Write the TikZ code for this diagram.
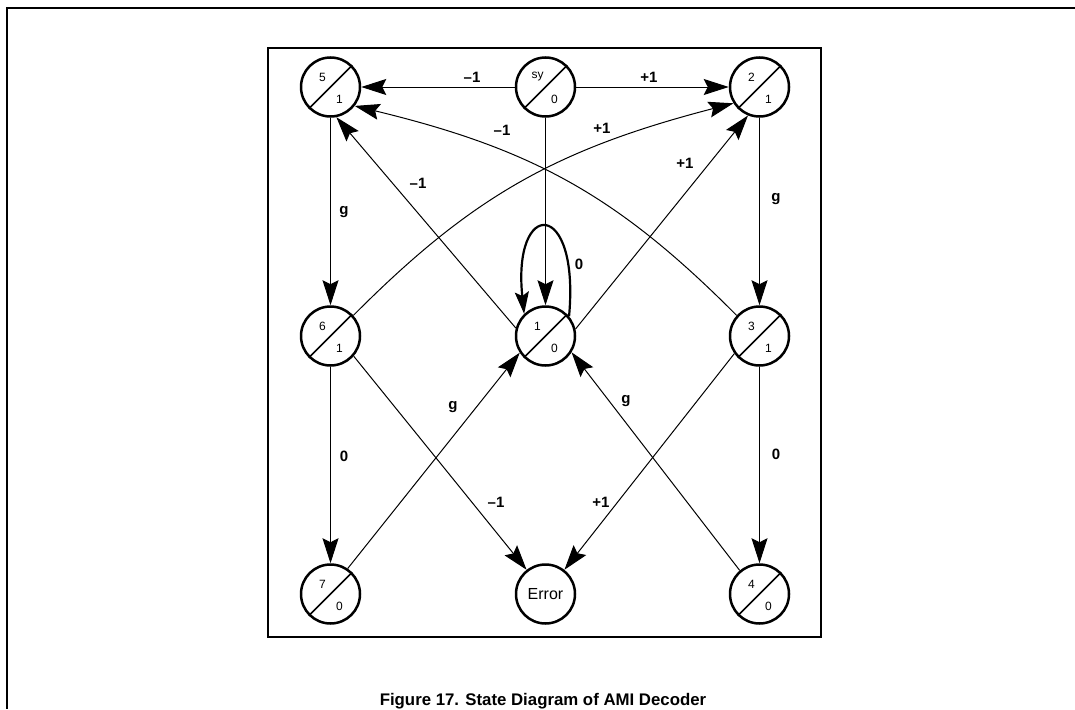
\documentclass[tikz,border=0pt]{standalone}
\usepackage{fontspec}
\setmainfont{Liberation Sans}
\usetikzlibrary{arrows.meta,calc}
\tikzset{
  st/.style={circle,draw,line width=2.5pt,minimum size=59pt,inner sep=0pt},
  diag/.style={line width=1.5pt},
  lbl/.style={font=\fontsize{12}{12}\selectfont,inner sep=0pt},
  elbl/.style={font=\fontsize{15}{15}\selectfont\bfseries,inner sep=0pt},
  arr/.style={line width=1pt,-{Stealth[length=25pt,width=16pt,inset=4pt]}},
  looparr/.style={line width=2.2pt,-{Stealth[length=22pt,width=14pt,inset=4pt]}},
  frame/.style={line width=2pt},
}
\newcommand\mystate[5]{%
  \node[st] (#1) at (#2,#3) {};
  \draw[diag] (#1.225) -- (#1.45);
  \node[lbl] (#1t) at ($(#1)+(-8,10)$) {#4};
  \node[lbl] (#1b) at ($(#1)+(9,-12)$) {#5};
}
\begin{document}
\begin{tikzpicture}[x=1pt,y=1pt]
\useasboundingbox (0,0) rectangle (1075,-709);
% frames
\draw[frame] (1075,-8) -- (7,-8) -- (7,-709);
\draw[frame] (268,-48) rectangle (821,-637);
% states
\mystate{n5}{330.5}{-87}{5}{1}
\mystate{nsy}{545.5}{-87}{sy}{0}
\mystate{n2}{759.5}{-87}{2}{1}
\mystate{n6}{330.5}{-336}{6}{1}
\mystate{n1}{545.5}{-336}{1}{0}
\mystate{n3}{759.5}{-336}{3}{1}
\mystate{n7}{330.5}{-594}{7}{0}
\mystate{n4}{759.5}{-594}{4}{0}
\node[st,font=\fontsize{16}{16}\selectfont] (nerr) at (545.5,-594) {Error};
% edges
\draw[arr] (nsy.west) -- (n5.east);
\draw[arr] (nsy.east) -- (n2.west);
\draw[arr] (nsy.south) -- (n1.north);
\draw[arr] (n5.south) -- (n6.north);
\draw[arr] (n6.south) -- (n7.north);
\draw[arr] (n2.south) -- (n3.north);
\draw[arr] (n3.south) -- (n4.north);
\draw[arr] (n1.165) -- (n5.-79);
\draw[arr] (n1.13) -- (n2.-112);
\draw[arr] (n6.-41) -- (nerr.128);
\draw[arr] (n3.-145) -- (nerr.52);
\draw[arr] (n7.56) -- (n1.213);
\draw[arr] (n4.130) -- (n1.-32);
\draw[arr] (n6.42) .. controls (472,-196) and (557,-149) .. (n2.212);
\draw[arr] (n3.138) .. controls (618,-196) and (533,-149) .. (n5.-38);
\draw[looparr] (n1.40) .. controls (580,-198) and (512,-198) .. (n1.134);
% edge labels
\node[elbl] (l1) at (472,-77) {–1};
\node[elbl] (l2) at (649,-77) {+1};
\node[elbl] (l3) at (502,-130) {–1};
\node[elbl] (l4) at (602,-128) {+1};
\node[elbl] (l5) at (418,-183) {–1};
\node[elbl] (l6) at (685,-163) {+1};
\node[elbl] (l7) at (344,-212) {g};
\node[elbl] (l8) at (776,-199) {g};
\node[elbl] (l9) at (579,-264) {0};
\node[elbl] (l10) at (344,-456) {0};
\node[elbl] (l11) at (776,-454) {0};
\node[elbl] (l12) at (453,-407) {g};
\node[elbl] (l13) at (626,-401) {g};
\node[elbl] (l14) at (496,-502) {–1};
\node[elbl] (l15) at (601,-502) {+1};
% caption
\node[font=\fontsize{16.8}{17}\selectfont\bfseries,anchor=base,inner sep=0pt] (cap) at (543,-705) {Figure 17. State Diagram of AMI Decoder};
\end{tikzpicture}
\end{document}
